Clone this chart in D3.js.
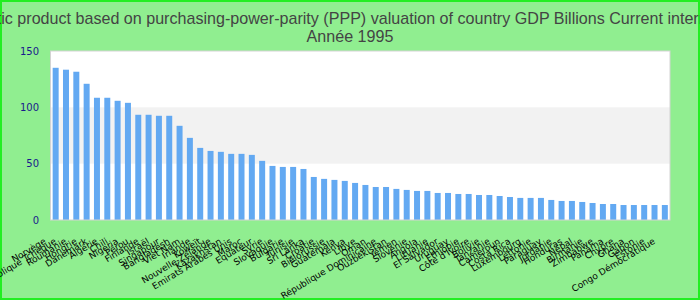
<!doctype html>
<html lang="fr">
<head>
  <meta charset="UTF-8" />
  <script src="https://cdn.jsdelivr.net/npm/d3@7"></script>
  <style>
    body { margin: 0; }
    .title { font-family: "Liberation Sans", Arial, sans-serif; font-size: 16.1px; fill: #444; }
    .ytick { font-family: "DejaVu Sans", sans-serif; font-size: 10px; fill: #1a1a8c; }
    .xtick { font-family: "DejaVu Sans", sans-serif; font-size: 9px; fill: #000; }
  </style>
  <title>PIB PPA 1995</title>
</head>
<body>
  <script>
    var titleText = "Gross domestic product based on purchasing-power-parity (PPP) valuation of country GDP Billions Current international dollar";
    var subTitle = "Année 1995";

    var countries = [
      "Norvège", "République Tchèque", "Roumanie", "Hongrie", "Danemark", "Algérie",
      "Chili", "Nigeria", "Pérou", "Finlande", "Israël", "Singapour",
      "Bangladesh", "Viet Nam", "Irlande", "Koweït", "Nouvelle-Zélande", "Kazakhstan",
      "Emirats Arabes Unis", "Maroc", "Equateur", "Syrie", "Slovaquie", "Bulgarie",
      "Tunisie", "Sri Lanka", "Croatie", "Biélorussie", "Guatemala", "Kenya",
      "Libye", "Oman", "République Dominicaine", "Ouzbékistan", "Yémen", "Slovénie",
      "Angola", "Lituanie", "El Salvador", "Uruguay", "Ethiopie", "Côte d'Ivoire",
      "Bolivie", "Tanzanie", "Cameroun", "Costa Rica", "Luxembourg", "Lettonie",
      "Paraguay", "Jordanie", "Honduras", "Népal", "Birmanie", "Zimbabwe",
      "Panama", "Chypre", "Ghana", "Gabon", "Estonie", "Congo Démocratique"
    ];
    var values = [
      135.1, 133.4, 131.6, 120.9, 108.5, 108.5,
      105.8, 104.0, 93.4, 93.4, 92.5, 92.5,
      83.6, 72.9, 64.0, 61.3, 60.5, 58.7,
      58.7, 57.8, 52.5, 48.0, 47.1, 47.1,
      45.3, 38.2, 36.5, 35.6, 34.7, 32.9,
      31.1, 29.3, 29.3, 27.6, 26.7, 25.8,
      25.8, 24.0, 24.0, 23.1, 23.1, 22.2,
      22.2, 21.3, 20.4, 19.6, 19.6, 19.6,
      17.8, 16.9, 16.9, 16.0, 15.1, 14.2,
      14.2, 13.3, 13.3, 13.3, 13.3, 13.3
    ];
    var yTicks = [0, 50, 100, 150];
    var bands = [[50, 100]];

    var W = 700, H = 300;
    var plotL = 50.5, plotR = 670, plotT = 51, plotB = 220;

    var svg = d3.select("body").append("svg")
      .attr("width", W).attr("height", H);

    svg.append("rect")
      .attr("x", 1).attr("y", 1).attr("width", W - 2).attr("height", H - 2)
      .attr("fill", "#90ee90").attr("stroke", "#22ee22").attr("stroke-width", 2);

    var x = d3.scaleBand().domain(countries).range([plotL, plotR])
      .paddingInner(0.42).paddingOuter(0.21);
    var y = d3.scaleLinear().domain([0, 150]).range([plotB, plotT]);

    svg.append("rect")
      .attr("x", plotL).attr("y", plotT).attr("width", plotR - plotL).attr("height", plotB - plotT)
      .attr("fill", "#fff");

    svg.append("g").selectAll("rect").data(bands).enter().append("rect")
      .attr("x", plotL).attr("width", plotR - plotL)
      .attr("y", function (d) { return y(d[1]); })
      .attr("height", function (d) { return y(d[0]) - y(d[1]); })
      .attr("fill", "#f2f2f2");

    svg.append("g").selectAll("rect").data(values).enter().append("rect")
      .attr("x", function (d, i) { return x(countries[i]); })
      .attr("width", x.bandwidth())
      .attr("y", function (d) { return y(d); })
      .attr("height", function (d) { return y(0) - y(d); })
      .attr("fill", "#63a9f2");

    svg.append("rect")
      .attr("x", plotL).attr("y", plotT).attr("width", plotR - plotL).attr("height", plotB - plotT)
      .attr("fill", "none").attr("stroke", "#d3d3d3").attr("stroke-width", 1);

    svg.append("g").selectAll("text").data(yTicks).enter().append("text")
      .attr("class", "ytick")
      .attr("x", 39).attr("y", function (d) { return y(d); })
      .attr("dy", "0.35em").attr("text-anchor", "end")
      .text(function (d) { return d; });

    // rotated country names, right end near each bar
    svg.append("g").selectAll("text").data(countries).enter().append("text")
      .attr("class", "xtick")
      .attr("text-anchor", "end")
      .attr("transform", function (d) {
        return "translate(" + (x(d) + x.bandwidth() / 2 - 9) + ",243) rotate(-31)";
      })
      .text(function (d) { return d; });

    svg.append("text").attr("class", "title")
      .attr("x", 350).attr("y", 24)
      .attr("text-anchor", "middle")
      .text(titleText);

    svg.append("text").attr("class", "title")
      .attr("x", 350).attr("y", 42)
      .attr("text-anchor", "middle")
      .text(subTitle);
  </script>
</body>
</html>
